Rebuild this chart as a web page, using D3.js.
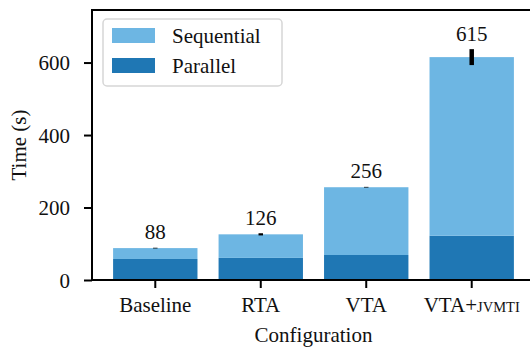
<!DOCTYPE html>
<html>
<head>
<meta charset="utf-8">
<script src="https://cdn.jsdelivr.net/npm/d3@7"></script>
<style>
  body { margin: 0; background: #fff; }
  svg { display: block; }
</style>
</head>
<body>
<div id="chart"></div>
<script>
// values
const configs = ["Baseline", "RTA", "VTA", "VTA+JVMTI"];
const parallel = [58, 61, 69, 122];
const sequential = [30, 65, 187, 493];
const totals = [88, 126, 256, 615];
const errors = [1, 3, 1, 22];
const yTicks = [0, 200, 400, 600];

const colorSeq = "#6db6e3";
const colorPar = "#1f77b4";
const serif = "Liberation Serif";
const fs = 21;

const W = 530, H = 347;
const mLeft = 92, mRight = 535, mTop = 10, mBottom = 280;

const svg = d3.select("#chart").append("svg")
    .attr("width", W)
    .attr("height", H)
    .attr("font-family", serif);

const x = d3.scaleBand()
    .domain(configs)
    .range([mLeft, mRight])
    .paddingInner(0.2)
    .paddingOuter(0.2);

const y = d3.scaleLinear()
    .domain([0, 745])
    .range([mBottom, mTop]);

// stacked bars: parallel at the bottom, sequential on top
const rows = configs.map((c, i) => ({ config: c, Parallel: parallel[i], Sequential: sequential[i] }));
const stack = d3.stack().keys(["Parallel", "Sequential"]);
const series = stack(rows);
const fills = { Parallel: colorPar, Sequential: colorSeq };

svg.append("g").selectAll("g")
    .data(series)
    .join("g")
    .attr("fill", d => fills[d.key])
    .selectAll("rect")
    .data(d => d)
    .join("rect")
    .attr("x", d => x(d.data.config))
    .attr("width", x.bandwidth())
    .attr("y", d => y(d[1]))
    .attr("height", d => y(d[0]) - y(d[1]));

// error bars
svg.append("g").selectAll("line")
    .data(configs)
    .join("line")
    .attr("x1", d => x(d) + x.bandwidth() / 2)
    .attr("x2", d => x(d) + x.bandwidth() / 2)
    .attr("y1", (d, i) => y(totals[i] - errors[i]))
    .attr("y2", (d, i) => y(totals[i] + errors[i]))
    .attr("stroke", "#000")
    .attr("stroke-width", 4.5);

// total labels
svg.append("g").selectAll("text")
    .data(configs)
    .join("text")
    .attr("x", d => x(d) + x.bandwidth() / 2)
    .attr("y", (d, i) => y(totals[i] + errors[i]) - 8.5)
    .attr("text-anchor", "middle")
    .attr("font-family", serif)
    .attr("font-size", fs)
    .attr("fill", "#111")
    .text((d, i) => totals[i]);

// axes
const yAxis = svg.append("g")
    .attr("transform", `translate(${mLeft},0)`)
    .call(d3.axisLeft(y).tickValues(yTicks).tickSize(8).tickPadding(14));

const xAxis = svg.append("g")
    .attr("transform", `translate(0,${mBottom})`)
    .call(d3.axisBottom(x).tickSize(8).tickPadding(8.5));

[yAxis, xAxis].forEach(g => {
    g.attr("font-family", serif).attr("font-size", fs);
    g.select(".domain").remove();
    g.selectAll(".tick line").attr("stroke", "#000").attr("stroke-width", 2);
    g.selectAll(".tick text").attr("fill", "#111").attr("font-family", serif);
});
yAxis.selectAll(".tick text").attr("dy", "0.34em");
xAxis.selectAll(".tick text").attr("dy", "0.76em");

// small caps for JVMTI
xAxis.selectAll(".tick text")
    .filter(d => d.includes("+"))
    .each(function (d) {
        const parts = d.split("+");
        const t = d3.select(this).text(null);
        t.append("tspan").text(parts[0] + "+");
        t.append("tspan").attr("font-size", 14.5).text(parts[1]);
    });

// spines
svg.append("path")
    .attr("d", `M${mRight},${mTop}H${mLeft}V${mBottom}H${mRight}`)
    .attr("fill", "none")
    .attr("stroke", "#000")
    .attr("stroke-width", 2);

// axis titles
svg.append("text")
    .attr("x", (mLeft + mRight) / 2)
    .attr("y", 342)
    .attr("text-anchor", "middle")
    .attr("font-family", serif)
    .attr("font-size", fs)
    .attr("fill", "#111")
    .text("Configuration");

svg.append("text")
    .attr("transform", `translate(26,${(mTop + mBottom) / 2}) rotate(-90)`)
    .attr("text-anchor", "middle")
    .attr("font-family", serif)
    .attr("font-size", fs)
    .attr("fill", "#111")
    .text("Time (s)");

// legend
const legend = svg.append("g");
legend.append("rect")
    .attr("x", 103).attr("y", 19)
    .attr("width", 179).attr("height", 67)
    .attr("rx", 4)
    .attr("fill", "#fff").attr("fill-opacity", 0.8)
    .attr("stroke", "#d6d6d6").attr("stroke-width", 1.5);

const legendItems = [
    { name: "Sequential", color: colorSeq },
    { name: "Parallel", color: colorPar }
];
legend.selectAll("g")
    .data(legendItems)
    .join("g")
    .attr("transform", (d, i) => `translate(112,${28 + i * 30})`)
    .each(function (d) {
        const g = d3.select(this);
        g.append("rect").attr("width", 43).attr("height", 15).attr("fill", d.color);
        g.append("text")
            .attr("x", 60).attr("y", 7.5).attr("dy", "0.34em")
            .attr("font-family", serif)
            .attr("font-size", fs)
            .attr("fill", "#111")
            .text(d.name);
    });
</script>
</body>
</html>
